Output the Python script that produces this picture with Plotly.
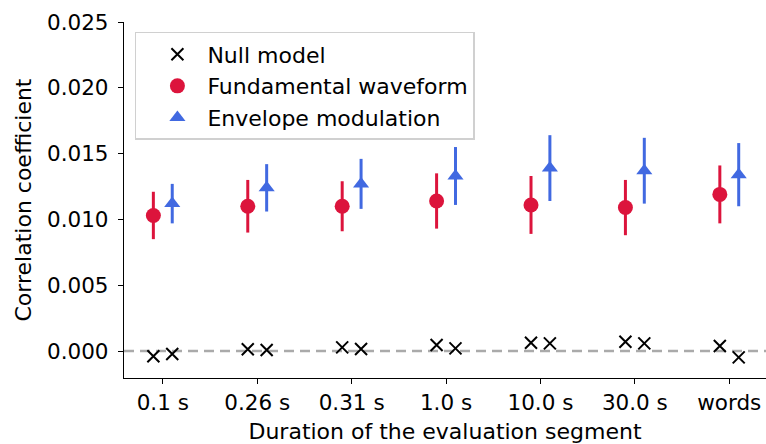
import plotly.graph_objects as go

# Evaluation segment durations (x categories)
segments = ["0.1 s", "0.26 s", "0.31 s", "1.0 s", "10.0 s", "30.0 s", "words"]

# Fundamental waveform: mean correlation and error
fundamental = [0.0103, 0.0110, 0.0110, 0.0114, 0.0111, 0.0109, 0.0119]
fundamental_err = [0.0018, 0.0020, 0.0019, 0.0021, 0.0022, 0.0021, 0.0022]

# Envelope modulation: mean correlation and error
envelope = [0.0112, 0.0124, 0.0127, 0.0133, 0.0139, 0.0137, 0.0134]
envelope_err = [0.0015, 0.0018, 0.0019, 0.0022, 0.0025, 0.0025, 0.0024]

# Null model correlations for each of the two feature sets
null_fundamental = [-0.0004, 0.00013, 0.00028, 0.00046, 0.00063, 0.00071, 0.00038]
null_envelope = [-0.00023, 0.00008, 0.00015, 0.00020, 0.00058, 0.00058, -0.00048]

offset = 0.1
idx = list(range(len(segments)))
x_left = [i - offset for i in idx]
x_right = [i + offset for i in idx]

FONT = "DejaVu Sans"
RED = "#DC143C"
BLUE = "#4169E1"

fig = go.Figure()

fig.add_hline(y=0, line=dict(color="#aaaaaa", width=2.5, dash="10px,6px"), layer="below")

fig.add_trace(go.Scatter(
    x=x_left + x_right,
    y=null_fundamental + null_envelope,
    mode="markers",
    name="Null model",
    marker=dict(symbol="x-thin", size=12, color="black", line=dict(width=2, color="black")),
))

fig.add_trace(go.Scatter(
    x=x_left,
    y=fundamental,
    mode="markers",
    name="Fundamental waveform",
    marker=dict(symbol="circle", size=15, color=RED),
    error_y=dict(type="data", array=fundamental_err, color=RED, thickness=3, width=0),
))

fig.add_trace(go.Scatter(
    x=x_right,
    y=envelope,
    mode="markers",
    name="Envelope modulation",
    marker=dict(symbol="triangle-up", size=14, color=BLUE),
    error_y=dict(type="data", array=envelope_err, color=BLUE, thickness=3, width=0),
))

fig.update_layout(
    width=766,
    height=444,
    margin=dict(l=124, r=0, t=22, b=66),
    paper_bgcolor="white",
    plot_bgcolor="white",
    font=dict(family=FONT, size=21.5, color="black"),
    showlegend=True,
    legend=dict(
        x=0.017, y=0.972, xanchor="left", yanchor="top",
        bgcolor="rgba(255,255,255,0.8)",
        bordercolor="#d0d0d0", borderwidth=1.5,
        font=dict(family=FONT, size=22),
        itemwidth=50,
        indentation=11,
    ),
    xaxis=dict(
        range=[-0.411, 6.389],
        tickmode="array",
        tickvals=idx,
        ticktext=segments,
        showgrid=False,
        zeroline=False,
        showline=True,
        linecolor="black",
        linewidth=1.3,
        ticks="outside",
        ticklen=5,
        tickwidth=1.3,
        tickcolor="black",
        tickfont=dict(size=21.5),
        title=dict(text="Duration of the evaluation segment", font=dict(size=22), standoff=9),
    ),
    yaxis=dict(
        range=[-0.00205, 0.025],
        tickmode="array",
        tickvals=[0.0, 0.005, 0.010, 0.015, 0.020, 0.025],
        ticktext=["0.000", "0.005", "0.010", "0.015", "0.020", "0.025"],
        showgrid=False,
        zeroline=False,
        showline=True,
        linecolor="black",
        linewidth=1.3,
        ticks="outside",
        ticklen=5,
        tickwidth=1.3,
        tickcolor="black",
        tickfont=dict(size=21.5),
        ticklabelstandoff=5,
        title=dict(text="Correlation coefficient", font=dict(size=22), standoff=9),
    ),
)

fig.write_html("out.html")
